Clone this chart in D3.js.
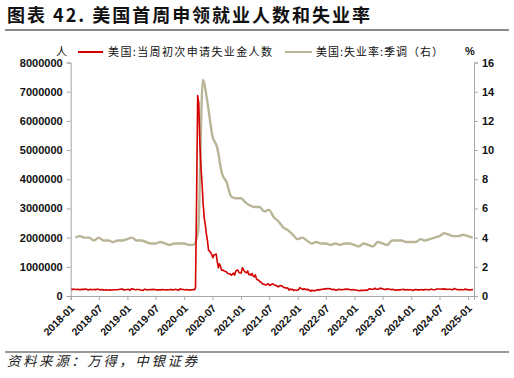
<!DOCTYPE html>
<html><head><meta charset="utf-8">
<script src="https://cdn.jsdelivr.net/npm/d3@7"></script>
<style>
body{margin:0;background:#fff;}
svg{display:block;}
</style></head>
<body><svg id="c" width="514" height="378"></svg>
<script>
// Weekly initial jobless claims (thousands), weeks ending Saturday, from 2018-01-06
const claims2018=[250,220,233,230,221,223,230,222,210,231,226,218,242,233,232,209,211,231,214,222,221,218,218,227,231,232,207,215,218,209,212,206,212,203,205,211,201,207,210,215,214,216,214,220,224,233,235,234,206,217,216,221];
const claims2019=[231,216,199,253,234,239,225,216,225,223,221,211,202,196,192,230,230,211,215,212,218,221,218,227,221,224,206,216,209,215,209,221,217,215,214,204,210,213,212,218,218,211,215,221,227,211,216,203,252,234,222,224];
const claims2020=[212,207,220,214,203,203,210,216,219,211,282,3307,6867,6615,5237,4442,3867,3176,2687,2446,2126,1897,1566,1540,1482,1413,1314,1416,1422,1435,1186,963,1106,1011,881,893,866,849,837,804,767,751,757,711,748,787,716,853,885,892,803,790];
const claims2021=[787,965,914,847,812,793,861,730,754,712,770,684,658,728,586,553,547,498,473,444,406,405,385,376,412,418,364,373,400,419,385,375,353,348,310,340,362,351,326,293,290,269,281,268,199,238,222,227,188,206,205,198];
const claims2022=[207,230,286,260,238,223,248,232,215,227,214,187,166,202,184,185,180,200,203,218,210,218,229,231,235,251,244,260,248,252,245,228,213,232,219,193,209,219,228,214,217,217,225,222,241,226,240,230,211,216,216,223,204];
const claims2023=[206,205,190,186,183,196,194,192,190,211,192,198,228,246,239,230,229,242,264,242,232,229,261,262,264,239,236,227,221,248,239,230,228,216,228,220,201,202,211,200,209,217,212,220,231,209,218,202,220,205,212,218];
const claims2024=[202,187,214,224,218,212,201,213,215,217,210,210,221,222,212,212,208,231,231,222,216,219,229,242,238,238,233,238,243,223,249,233,227,232,229,231,222,219,225,258,241,227,216,221,216,221,213,215,225,242,220,219];
const claims2025=[211,201,217,223,219];

// Monthly unemployment rate, SA (%), 2018-01 .. 2025-01
const unemp=[4.0,4.1,4.0,4.0,3.8,4.0,3.8,3.8,3.7,3.8,3.8,3.9,
 4.0,3.8,3.8,3.7,3.6,3.6,3.7,3.6,3.5,3.6,3.6,3.6,
 3.5,3.5,4.4,14.8,13.2,11.0,10.2,8.4,7.8,6.8,6.7,6.7,
 6.4,6.2,6.1,6.1,5.8,5.9,5.4,5.1,4.7,4.5,4.2,3.9,
 4.0,3.8,3.6,3.7,3.6,3.6,3.5,3.6,3.5,3.6,3.6,3.5,
 3.4,3.6,3.5,3.4,3.7,3.6,3.5,3.8,3.8,3.8,3.7,3.7,
 3.7,3.9,3.8,3.9,4.0,4.1,4.3,4.2,4.1,4.1,4.2,4.1,
 4.0];

const leftTicks=[0,1000000,2000000,3000000,4000000,5000000,6000000,7000000,8000000];
const rightTicks=[0,2,4,6,8,10,12,14,16];
const xTickLabels=["2018-01","2018-07","2019-01","2019-07","2020-01","2020-07","2021-01","2021-07","2022-01","2022-07","2023-01","2023-07","2024-01","2024-07","2025-01"];

const title="图表  42. 美国首周申领就业人数和失业率";
const legend1="美国:当周初次申请失业金人数";
const legend2="美国:失业率:季调（右）";
const source="资料来源：万得，中银证券";

const RED="#d40000", OLIVE="#b9b597", AX="#a6a6a6";
const svg=d3.select("#c");
const L=70.7, R=474, T=62.5, B=296;
const parse=d3.utcParse("%Y-%m");
const x=d3.scaleUtc().domain([new Date(Date.UTC(2018,0,1)),new Date(Date.UTC(2025,1,8))]).range([L,R]);
const yL=d3.scaleLinear().domain([0,8000000]).range([B,T]);
const yR=d3.scaleLinear().domain([0,16]).range([B,T]);

const allClaims=[].concat(claims2018,claims2019,claims2020,claims2021,claims2022,claims2023,claims2024,claims2025);
const start=new Date(Date.UTC(2018,0,6));
const claimData=allClaims.map((v,i)=>({d:d3.utcDay.offset(start,7*i),v:v*1000}));
const unData=unemp.map((v,i)=>({d:d3.utcDay.offset(d3.utcMonth.offset(new Date(Date.UTC(2018,1,1)),i),-1),v}));

// title
svg.append("text").attr("x",7).attr("y",22).attr("font-family","Noto Sans CJK SC").attr("font-weight","bold")
 .attr("font-size",18).attr("textLength",363).attr("lengthAdjust","spacing").attr("fill","#111").text(title);
svg.append("line").attr("x1",5).attr("x2",509).attr("y1",30).attr("y2",30).attr("stroke","#8c8c8c").attr("stroke-width",2);

// axes
const fontAx="Liberation Sans, Arial, sans-serif";
const gL=svg.append("g").attr("transform",`translate(${L},0)`).call(d3.axisLeft(yL).tickValues(leftTicks).tickSize(4).tickFormat(d3.format("d")));
const gR=svg.append("g").attr("transform",`translate(${R},0)`).call(d3.axisRight(yR).tickValues(rightTicks).tickSize(4).tickFormat(d3.format("d")));
const xTicks=xTickLabels.map(s=>parse(s));
const gX=svg.append("g").attr("transform",`translate(0,${B})`).call(d3.axisBottom(x).tickValues(xTicks).tickSize(4).tickFormat((d,i)=>xTickLabels[i]));
[gL,gR,gX].forEach(g=>{
  g.selectAll("path,line").attr("stroke",AX);
  g.selectAll("text").attr("font-family",fontAx).attr("font-weight","bold").attr("font-size",11).attr("fill","#111");
});
gL.selectAll("text").attr("x",-8);
gR.selectAll("text").attr("x",8);
gX.selectAll("text").attr("font-size",10.5).attr("text-anchor","end").attr("dy",0).attr("y",0)
  .attr("transform","translate(4,13) rotate(-45)");

// lines
svg.append("path").datum(unData).attr("fill","none").attr("stroke",OLIVE).attr("stroke-width",2.4)
 .attr("stroke-linejoin","round").attr("d",d3.line().x(d=>x(d.d)).y(d=>yR(d.v)).curve(d3.curveMonotoneX));
svg.append("path").datum(claimData).attr("fill","none").attr("stroke",RED).attr("stroke-width",1.6)
 .attr("stroke-linejoin","round").attr("d",d3.line().x(d=>x(d.d)).y(d=>yL(d.v)));

// legend
const lg=svg.append("g").attr("font-family","Noto Sans CJK SC").attr("font-size",11).attr("fill","#111");
lg.append("text").attr("x",56).attr("y",56).text("人");
lg.append("line").attr("x1",78).attr("x2",103).attr("y1",52).attr("y2",52).attr("stroke",RED).attr("stroke-width",2);
lg.append("text").attr("x",108).attr("y",56).attr("textLength",164).attr("lengthAdjust","spacing").text(legend1);
lg.append("line").attr("x1",285).attr("x2",312).attr("y1",52).attr("y2",52).attr("stroke",OLIVE).attr("stroke-width",2);
lg.append("text").attr("x",316).attr("y",56).attr("textLength",127).attr("lengthAdjust","spacing").text(legend2);
lg.append("text").attr("x",465).attr("y",55).attr("font-family",fontAx).attr("font-weight","bold").text("%");

// source
svg.append("line").attr("x1",5).attr("x2",509).attr("y1",352).attr("y2",352).attr("stroke","#333").attr("stroke-width",1.2);
svg.append("text").attr("x",7).attr("y",366).attr("font-family","Noto Sans CJK SC").attr("font-size",13.5)
 .attr("font-style","italic").attr("textLength",190).attr("lengthAdjust","spacing").attr("fill","#222").text(source);
</script></body></html>
